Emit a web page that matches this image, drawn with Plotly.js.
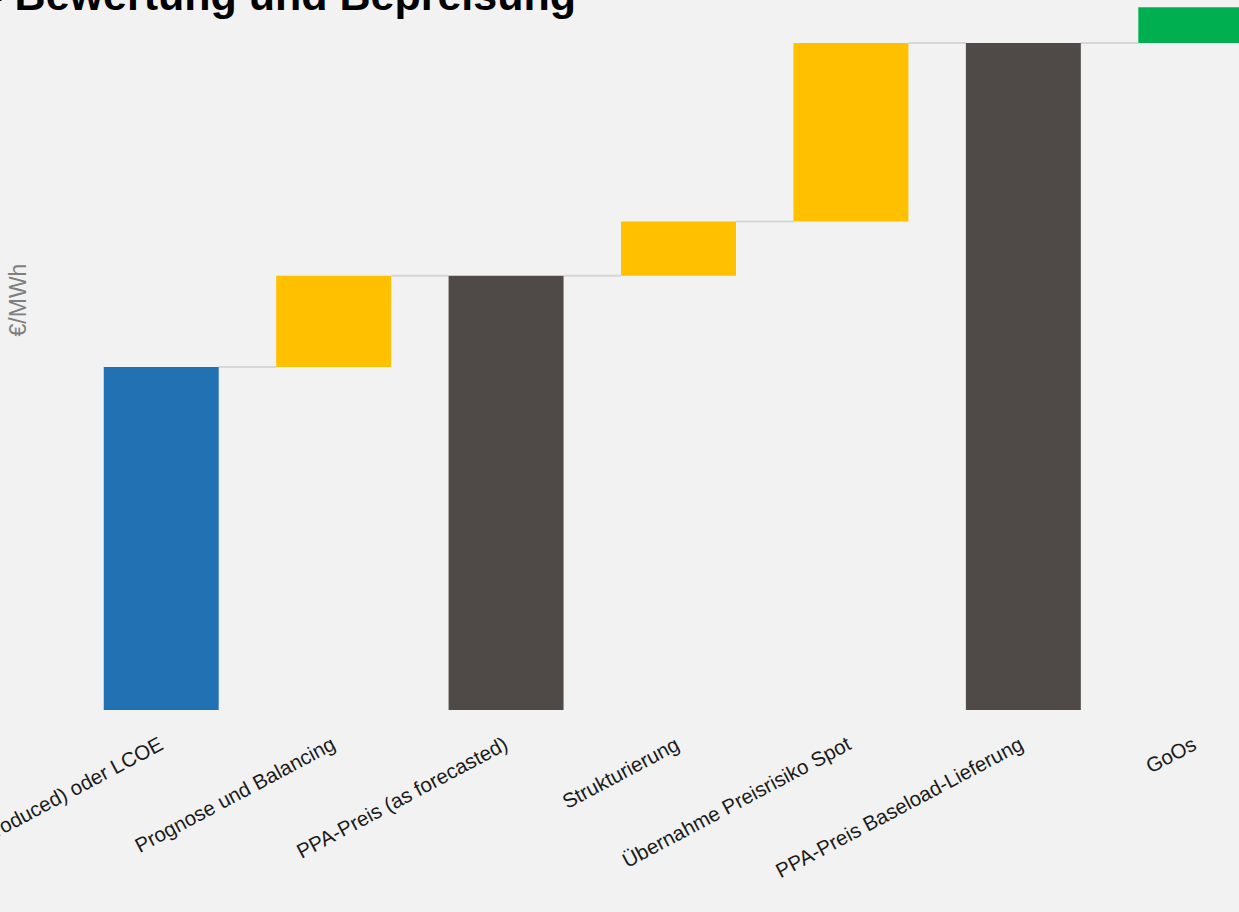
<!DOCTYPE html>
<html>
<head>
<meta charset="utf-8">
<script src="https://cdn.plot.ly/plotly-3.0.1.min.js"></script>
<style>
  html, body { margin: 0; padding: 0; width: 1239px; height: 912px; overflow: hidden; background: #F2F2F2; }
  #chart { position: absolute; left: -100px; top: -200px; width: 1402px; height: 1120px; }
</style>
</head>
<body>
<div id="chart"></div>
<script>
// ---- data ----
const categories = [
  "PPA-Preis (as produced) oder LCOE",
  "Prognose und Balancing",
  "PPA-Preis (as forecasted)",
  "Strukturierung",
  "Übernahme Preisrisiko Spot",
  "PPA-Preis Baseload-Lieferung",
  "GoOs"
];
const measures = ["absolute", "relative", "total", "relative", "relative", "total", "relative"];
const values = [50.0, 13.3, null, 7.9, 26.0, null, 5.2];
const titleText = "PPA – Bewertung und Bepreisung";
const yTitle = "€/MWh";

// ---- styles ----
const barColors = ["#2271B3", "#FFC000", "#4F4A47", "#FFC000", "#FFC000", "#4F4A47", "#00B050"];

// ---- compute waterfall bases ----
let running = 0;
const bases = [], heights = [], tops = [];
measures.forEach((m, i) => {
  if (m === "absolute") { bases.push(0); heights.push(values[i]); running = values[i]; }
  else if (m === "total") { bases.push(0); heights.push(running); }
  else { bases.push(running); heights.push(values[i]); running += values[i]; }
  tops.push(running);
});

const bargap = 1/3;
const half = (1 - bargap) / 2;
const shapes = [];
for (let i = 0; i < categories.length - 1; i++) {
  shapes.push({
    type: "line", xref: "x", yref: "y",
    x0: i + half, x1: i + 1 - half, y0: tops[i], y1: tops[i],
    line: { color: "#D6D6D6", width: 2 }, layer: "below"
  });
}

const annotations = categories.map((c) => ({
  x: c, xref: "x", y: 0, yref: "y",
  text: c, showarrow: false,
  textangle: -28,
  xanchor: "right", yanchor: "top",
  xshift: 7, yshift: -19,
  font: { size: 20.5, color: "#1A1A1A", family: "Liberation Sans, Arial, sans-serif" }
}));

const trace = {
  type: "bar",
  x: categories,
  y: heights,
  base: bases,
  marker: { color: barColors, line: { width: 0 } },
  hoverinfo: "skip"
};

const W = 1402, H = 1120;
const layout = {
  width: W, height: H,
  paper_bgcolor: "#F2F2F2",
  plot_bgcolor: "#F2F2F2",
  margin: { l: 175, r: 20, t: 90, b: 210 },
  bargap: bargap,
  showlegend: false,
  font: { family: "Liberation Sans, Arial, sans-serif", color: "#1A1A1A" },
  title: {
    text: "<b>" + titleText + "</b>",
    font: { size: 43, color: "#000000", family: "Liberation Sans, Arial, sans-serif" },
    xref: "container", x: 676 / W, xanchor: "right",
    yref: "container", y: 1 - 180 / H, yanchor: "top"
  },
  xaxis: {
    type: "category",
    range: [-0.5, categories.length - 0.5],
    autorange: false,
    showgrid: false, showline: false, zeroline: false, ticks: "",
    showticklabels: false,
    automargin: false
  },
  yaxis: {
    range: [0, 119.5],
    autorange: false,
    showgrid: false, showline: false, zeroline: false, ticks: "",
    showticklabels: false,
    automargin: false,
    title: { text: yTitle, font: { size: 23, color: "#7F7F7F" }, standoff: 40 }
  },
  shapes: shapes,
  annotations: annotations
};

Plotly.newPlot("chart", [trace], layout, { displayModeBar: false, staticPlot: true });
</script>
</body>
</html>
